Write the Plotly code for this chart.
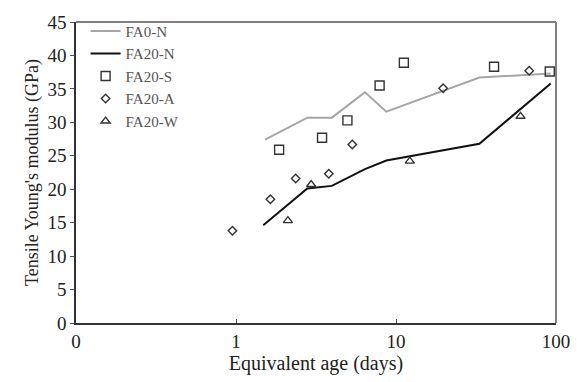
import plotly.graph_objects as go

fa0n_x = [1.52, 2.79, 3.97, 6.4, 8.7, 33.2, 92.7]
fa0n_y = [27.4, 30.7, 30.7, 34.5, 31.6, 36.7, 37.3]
fa20n_x = [1.48, 2.79, 3.97, 6.4, 8.7, 33.2, 92.7]
fa20n_y = [14.6, 20.1, 20.5, 23.0, 24.3, 26.8, 35.8]
fa20s_x = [1.86, 3.45, 4.97, 7.9, 11.2, 41.0, 91.4]
fa20s_y = [25.9, 27.7, 30.3, 35.5, 38.9, 38.3, 37.6]
fa20a_x = [0.95, 1.64, 2.36, 3.8, 5.33, 19.7, 68.0]
fa20a_y = [13.8, 18.5, 21.6, 22.3, 26.7, 35.1, 37.7]
fa20w_x = [2.11, 2.95, 12.2, 60.0]
fa20w_y = [15.3, 20.7, 24.2, 30.9]

x_tickvals = [0.1, 1, 10, 100]
x_ticktext = ["0", "1", "10", "100"]

font = "Liberation Serif, Times New Roman, serif"

fig = go.Figure()
fig.add_trace(go.Scatter(x=fa0n_x, y=fa0n_y, mode="lines", name="FA0-N",
                         line=dict(color="#a6a6a6", width=2)))
fig.add_trace(go.Scatter(x=fa20n_x, y=fa20n_y, mode="lines", name="FA20-N",
                         line=dict(color="#111111", width=2)))
fig.add_trace(go.Scatter(x=fa20s_x, y=fa20s_y, mode="markers", name="FA20-S",
                         marker=dict(symbol="square-open", size=9, color="#333333",
                                     line=dict(width=1.4))))
fig.add_trace(go.Scatter(x=fa20a_x, y=fa20a_y, mode="markers", name="FA20-A",
                         marker=dict(symbol="diamond-open", size=6.5, color="#333333",
                                     line=dict(width=1.4))))
fig.add_trace(go.Scatter(x=fa20w_x, y=fa20w_y, mode="markers", name="FA20-W",
                         marker=dict(symbol="triangle-up-open", size=8, color="#333333",
                                     line=dict(width=1.4))))

fig.update_layout(
    width=582, height=382,
    margin=dict(l=76, r=15, t=17, b=58),
    paper_bgcolor="white", plot_bgcolor="white",
    font=dict(family=font, color="#222222", size=18),
    showlegend=True,
    legend=dict(x=0.02, y=1.024, xanchor="left", yanchor="top",
                bgcolor="rgba(0,0,0,0)", font=dict(size=15, family=font, color="#555555"),
                tracegroupgap=0, itemwidth=30),
    shapes=[
        dict(type="line", xref="paper", yref="paper", x0=0, x1=1, y0=1, y1=1,
             line=dict(color="#808080", width=2)),
        dict(type="line", xref="paper", yref="paper", x0=1, x1=1, y0=0, y1=1,
             line=dict(color="#808080", width=2)),
    ],
)
fig.update_xaxes(type="log", range=[-1, 2], tickvals=x_tickvals, ticktext=x_ticktext,
                 showgrid=False, zeroline=False,
                 showline=True, linecolor="#333333", linewidth=1.5,
                 ticks="inside", ticklen=4, tickcolor="#555555",
                 title=dict(text="Equivalent age (days)", font=dict(size=20, family=font), standoff=4),
                 tickfont=dict(size=19, family=font))
fig.update_yaxes(range=[0, 45], dtick=5,
                 showgrid=False, zeroline=False,
                 showline=True, linecolor="#333333", linewidth=1.5,
                 ticks="outside", ticklen=4, tickcolor="#555555",
                 title=dict(text="Tensile Young's modulus (GPa)", font=dict(size=18, family=font), standoff=4),
                 tickfont=dict(size=19, family=font))

fig.write_html("out.html")
